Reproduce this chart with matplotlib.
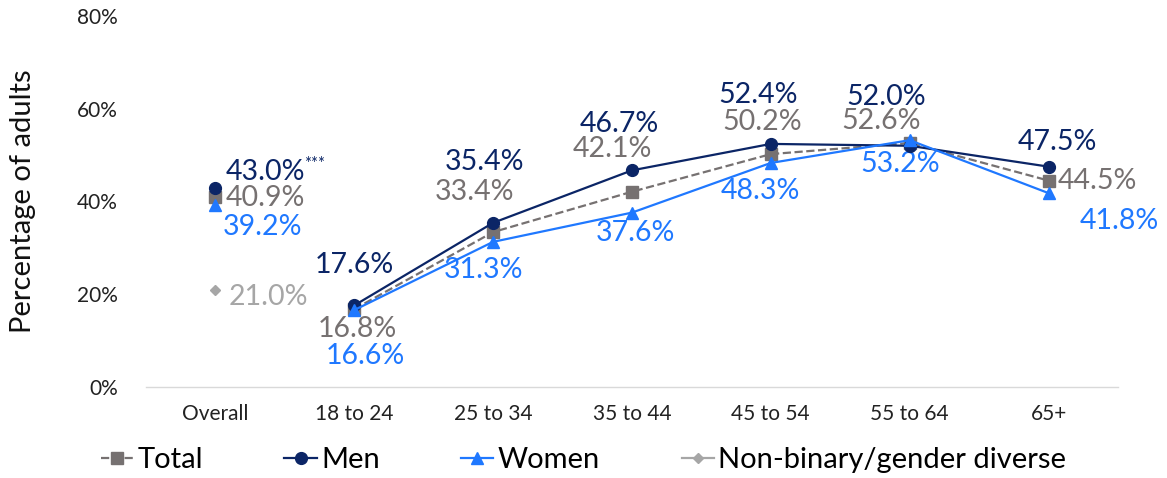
import matplotlib.pyplot as plt
from matplotlib.lines import Line2D

plt.rcParams['font.family'] = ['Lato', 'DejaVu Sans']

# Share of adults by age group (first entry is the overall figure)
groups = ["Overall", "18 to 24", "25 to 34", "35 to 44", "45 to 54", "55 to 64", "65+"]
total = [40.9, 16.8, 33.4, 42.1, 50.2, 52.6, 44.5]
men = [43.0, 17.6, 35.4, 46.7, 52.4, 52.0, 47.5]
women = [39.2, 16.6, 31.3, 37.6, 48.3, 53.2, 41.8]
nonbinary_overall = 21.0
yticks = [0, 20, 40, 60, 80]

C_TOTAL = "#767171"
C_MEN = "#0B2566"
C_WOMEN = "#1F78FF"
C_NB = "#A6A6A6"

# label offsets in pixels (dx, dy, horizontal alignment)
off_total = [(10, -1, "left"), (3, -20, "center"), (-19, 40, "center"), (-20, 43, "center"),
             (-9, 32, "center"), (-29, 22, "center"), (9, 0, "left")]
off_men = [(10, 16, "left"), (0, 40, "center"), (-9, 61, "center"), (-13, 46, "center"),
           (-13, 49, "center"), (-24, 49, "center"), (9, 25, "center")]
off_women = [(7, -22, "left"), (11, -46, "center"), (-10, -28, "center"), (4, -20, "center"),
             (-10, -28, "center"), (-10, -24, "center"), (71, -28, "center")]

fig = plt.figure(figsize=(11.67, 4.78), dpi=100)
ax = fig.add_axes([0.125, 0.19, 0.833, 0.777])

x = list(range(len(groups)))
xs = x[1:]

# age-group lines
ax.plot(xs, total[1:], color=C_TOTAL, ls="--", lw=1.6, marker="s", ms=8, zorder=3)
ax.plot(xs, men[1:], color=C_MEN, lw=1.6, marker="o", ms=8.5, zorder=4)
ax.plot(xs, women[1:], color=C_WOMEN, lw=1.6, marker="^", ms=8, zorder=5)

# overall values, not joined to the lines
ax.plot(0, total[0], color=C_TOTAL, marker="s", ms=8, zorder=3)
ax.plot(0, men[0], color=C_MEN, marker="o", ms=8.5, zorder=4)
ax.plot(0, women[0], color=C_WOMEN, marker="^", ms=8, zorder=5)
ax.plot(0, nonbinary_overall, color=C_NB, marker="D", ms=5, zorder=3)


def label(xi, v, off, color):
    dx, dy, ha = off
    ax.annotate(f"{v:.1f}%", (xi, v), xytext=(dx, dy), textcoords="offset pixels",
                ha=ha, va="center", fontsize=20.5, color=color)


for i in x:
    label(i, total[i], off_total[i], C_TOTAL)
    label(i, men[i], off_men[i], C_MEN)
    label(i, women[i], off_women[i], C_WOMEN)
label(0, nonbinary_overall, (13, -7, "left"), C_NB)
ax.annotate("***", (0, men[0]), xytext=(89, 24), textcoords="offset pixels",
            ha="left", va="center", fontsize=12, color=C_MEN)

ax.set_xlim(-0.5, 6.5)
ax.set_ylim(0, 80)
ax.set_yticks(yticks)
ax.set_yticklabels([f"{t}%" for t in yticks], fontsize=15, color="#222222")
ax.set_xticks(x)
ax.set_xticklabels(groups, fontsize=15, color="#222222")
ax.tick_params(length=0, pad=12)
ax.tick_params(axis="y", pad=20)
for s in ["top", "right", "left"]:
    ax.spines[s].set_visible(False)
ax.spines["bottom"].set_color("#D9D9D9")
ax.spines["bottom"].set_linewidth(1)
ax.set_ylabel("Percentage of adults", fontsize=21, color="#111111", labelpad=30)

handles = [
    Line2D([], [], color=C_TOTAL, ls="--", lw=1.6, marker="s", ms=8),
    Line2D([], [], color=C_MEN, lw=1.6, marker="o", ms=8.5),
    Line2D([], [], color=C_WOMEN, lw=1.6, marker="^", ms=8),
    Line2D([], [], color=C_NB, lw=1.6, marker="D", ms=5),
]
fig.legend(handles, ["Total", "Men", "Women", "Non-binary/gender diverse"],
           loc="center", bbox_to_anchor=(0.5, 0.038), ncol=4, frameon=False,
           fontsize=21, handlelength=1.1, handletextpad=0.15, columnspacing=2.8)

fig.savefig("out.png", dpi=100)
